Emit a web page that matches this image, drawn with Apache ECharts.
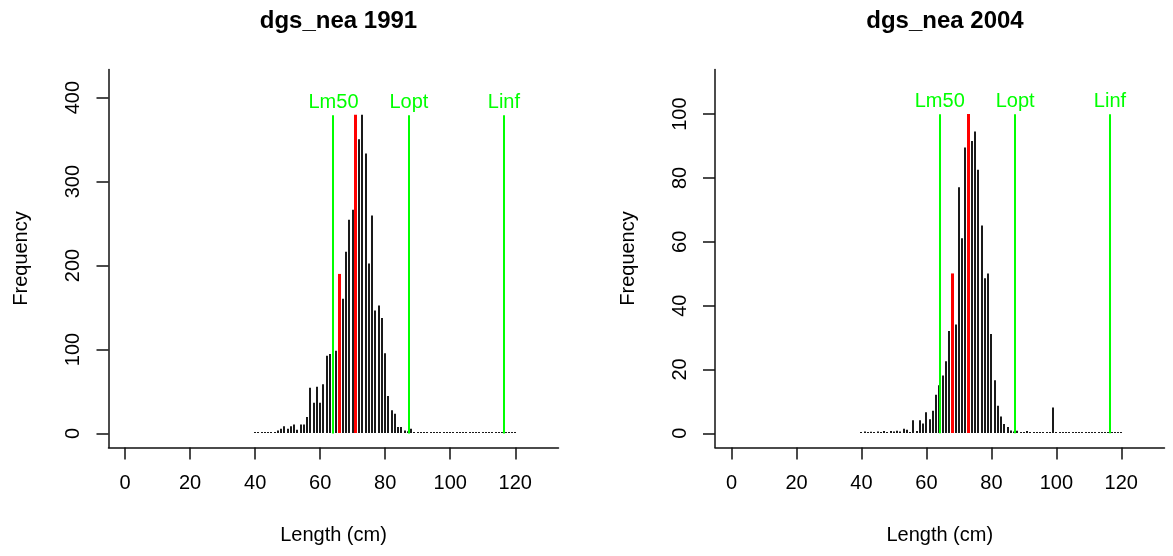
<!DOCTYPE html>
<html><head><meta charset="utf-8">
<script src="https://cdn.jsdelivr.net/npm/echarts@6/dist/echarts.min.js"></script>
<style>html,body{margin:0;padding:0;background:#fff}#c{width:1173px;height:556px}</style>
</head><body><div id="c"></div>
<script>
// ---------- data ----------
const lengths = [40,41,42,43,44,45,46,47,48,49,50,51,52,53,54,55,56,57,58,59,
  60,61,62,63,64,65,66,67,68,69,70,71,72,73,74,75,76,77,78,79,
  80,81,82,83,84,85,86,87,88,89,90,91,92,93,94,95,96,97,98,99,
  100,101,102,103,104,105,106,107,108,109,110,111,112,113,114,115,116,117,118,119,120];

const freq1991 = [0,0,0,0,0,0,1,3,5,8,
  5,8,10,4,10,10,19,54,36,55,
  36,58,92,94,96,98,185,160,216,254,
  266,310,350,379,333,202,259,146,152,137,
  95,44,27,23,7,7,3,2,5,0,
  0,0,0,0,0,0,0,0,0,0,
  0,0,0,0,0,0,0,0,0,0,
  0,0,0,0,0,0,0,0,0,0,0];

const freq2004 = [0.2,0.5,0.2,0.4,0.2,0.5,0.3,0.6,0.3,0.6,
  0.5,0.7,0.5,1.3,1.0,0.3,4,0.6,4,3,
  6.5,4.3,7,12,15,18,22.5,32,48,34,
  77,61,89.5,100,91.5,94.5,82.5,65,48.5,50,
  31,16.5,8.5,5.2,2.8,1.9,0.8,0.5,0.7,0.2,
  0.2,0.6,0.2,0.2,0.2,0.2,0.2,0.2,0,8,
  0,0,0,0,0,0,0,0,0,0,
  0,0,0,0,0,0,0,0,0,0,0];

const titles = ['dgs_nea 1991', 'dgs_nea 2004'];

// red markers (Lc, Lmean) : positions and heights
const redPos1991 = [66, 71];
const redHeight1991 = [189.5, 379];
const redPos2004 = [68, 73];
const redHeight2004 = [50, 100];

// green reference lines
const refLabels = ['Lm50', 'Lopt', 'Linf'];
const refPos = [64.1, 87.3, 116.5];
const refHeight1991 = [379, 379, 379];
const refHeight2004 = [100, 100, 100];

const xTicks = [0, 20, 40, 60, 80, 100, 120];
const yTicks1991 = [0, 100, 200, 300, 400];
const yTicks2004 = [0, 20, 40, 60, 80, 100];

// ---------- chart ----------
const FONT = '"Liberation Sans", Arial, sans-serif';
const chart = echarts.init(document.getElementById('c'), null, {renderer: 'canvas'});

function zip(a, b) { return a.map((v, i) => [v, b[i]]); }

function barRender(color, w) {
  return function (params, api) {
    const x = api.value(0), y = api.value(1);
    const p0 = api.coord([x, 0]);
    const p1 = api.coord([x, y]);
    const h = Math.max(1, p0[1] - p1[1]);
    return {
      type: 'rect',
      shape: {x: Math.round(p0[0] - w / 2), y: Math.round(p0[1]) - h, width: w, height: h},
      style: {fill: color}
    };
  };
}

function refRender(params, api) {
  const x = api.value(0), y = api.value(1);
  const p0 = api.coord([x, 0]);
  const p1 = api.coord([x, y]);
  const xs = Math.round(p0[0]);
  return {
    type: 'group',
    children: [
      {type: 'rect', shape: {x: xs - 1, y: p1[1], width: 2, height: p0[1] - p1[1]},
        style: {fill: '#00FF00'}},
      {type: 'text', x: p1[0], y: p1[1] - 3,
        style: {text: refLabels[params.dataIndex], align: 'center', verticalAlign: 'bottom',
          fill: '#00FF00', fontSize: 20, fontFamily: FONT}}
    ]
  };
}

const axisLineStyle = {color: '#111', width: 1.5};

function xAxisDef(gi) {
  return {
    type: 'value', gridIndex: gi, min: -5.1, max: 133.3,
    axisLine: {show: true, onZero: false, lineStyle: axisLineStyle},
    axisTick: {show: true, length: 12, customValues: xTicks, lineStyle: axisLineStyle},
    axisLabel: {customValues: xTicks, margin: 26, fontSize: 20, color: '#000', fontFamily: FONT},
    splitLine: {show: false},
    name: 'Length (cm)', nameLocation: 'middle', nameGap: 78,
    nameTextStyle: {fontSize: 20, color: '#000', fontFamily: FONT}
  };
}
function yAxisDef(gi, min, max, ticks) {
  return {
    type: 'value', gridIndex: gi, min: min, max: max,
    axisLine: {show: true, onZero: false, lineStyle: axisLineStyle},
    axisTick: {show: true, length: 12, customValues: ticks, lineStyle: axisLineStyle},
    axisLabel: {customValues: ticks, rotate: 90, margin: 25, fontSize: 20, color: '#000', fontFamily: FONT},
    splitLine: {show: false},
    name: 'Frequency', nameLocation: 'middle', nameGap: 77, nameRotate: 90,
    nameTextStyle: {fontSize: 20, color: '#000', fontFamily: FONT}
  };
}

const option = {
  animation: false,
  backgroundColor: '#fff',
  title: [
    {text: titles[0], left: 333.5, top: 4, textAlign: 'center',
      textStyle: {fontSize: 24, fontWeight: 'bold', color: '#000', fontFamily: FONT}},
    {text: titles[1], left: 940, top: 4, textAlign: 'center',
      textStyle: {fontSize: 24, fontWeight: 'bold', color: '#000', fontFamily: FONT}}
  ],
  grid: [
    {left: 108.5, top: 69.5, width: 450, height: 378},
    {left: 715, top: 69.5, width: 449.5, height: 378}
  ],
  xAxis: [xAxisDef(0), xAxisDef(1)],
  yAxis: [yAxisDef(0, -16.8, 433.5, yTicks1991), yAxisDef(1, -4.45, 114, yTicks2004)],
  series: [
    {type: 'custom', xAxisIndex: 0, yAxisIndex: 0, data: zip(lengths, freq1991), renderItem: barRender('#1a1a1a', 2), z: 1},
    {type: 'custom', xAxisIndex: 0, yAxisIndex: 0, data: zip(redPos1991, redHeight1991), renderItem: barRender('#FF0000', 3), z: 2},
    {type: 'custom', xAxisIndex: 0, yAxisIndex: 0, data: zip(refPos, refHeight1991), renderItem: refRender, z: 3},
    {type: 'custom', xAxisIndex: 1, yAxisIndex: 1, data: zip(lengths, freq2004), renderItem: barRender('#1a1a1a', 2), z: 1},
    {type: 'custom', xAxisIndex: 1, yAxisIndex: 1, data: zip(redPos2004, redHeight2004), renderItem: barRender('#FF0000', 3), z: 2},
    {type: 'custom', xAxisIndex: 1, yAxisIndex: 1, data: zip(refPos, refHeight2004), renderItem: refRender, z: 3}
  ]
};
chart.setOption(option);
</script>
</body></html>
